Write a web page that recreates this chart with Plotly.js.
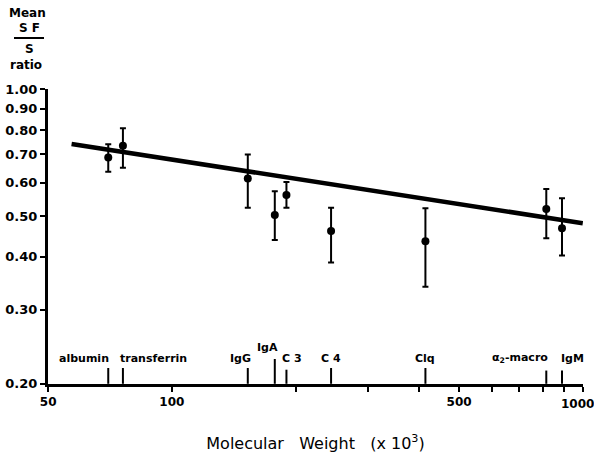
<!DOCTYPE html>
<html>
<head>
<meta charset="utf-8">
<script src="https://cdn.plot.ly/plotly-3.0.1.min.js"></script>
<style>html,body{margin:0;padding:0;background:#fff;}#chart{width:594px;height:461px;}</style>
</head>
<body>
<div id="chart"></div>
<script>
// Data (molecular weight x10^3, mean SF/S ratio, error bar ends)
const proteins = ["albumin", "transferrin", "IgG", "IgA", "C 3", "C 4", "Clq", "α2-macro", "IgM"];
const molWeight = [70, 76, 153, 178, 190, 244, 414, 815, 890];
const ratio = [0.689, 0.734, 0.614, 0.503, 0.561, 0.461, 0.436, 0.520, 0.468];
const errTop = [0.740, 0.808, 0.700, 0.573, 0.602, 0.523, 0.522, 0.580, 0.551];
const errBottom = [0.637, 0.651, 0.523, 0.439, 0.523, 0.388, 0.340, 0.443, 0.403];
const fitX = [57, 1000];
const fitY = [0.741, 0.481];
const xTickVals = [50, 100, 500, 1000];
const xTickText = ["50", "100", "500", "1000"];
const xMinorVals = [200, 300, 400, 600, 700, 800, 900];
const yTickVals = [0.2, 0.3, 0.4, 0.5, 0.6, 0.7, 0.8, 0.9, 1.0];
const yTickText = ["0.20", "0.30", "0.40", "0.50", "0.60", "0.70", "0.80", "0.90", "1.00"];

// Layout geometry
const W = 594, H = 461, L = 48, R = 11, T = 89, B = 77;
const pw = W - L - R, ph = H - T - B;
const pxX = p => (p - L) / pw;
const pxY = p => (H - B - p) / ph;

const FONT = "DejaVu Sans";

const errPlus = ratio.map((v, i) => errTop[i] - v);
const errMinus = ratio.map((v, i) => v - errBottom[i]);

// protein tick marks along bottom axis
const tickHeights = [0.218, 0.218, 0.218, 0.229, 0.216, 0.218, 0.218, 0.215, 0.215];
const mx = [], my = [];
molWeight.forEach((w, i) => { mx.push(w, w, null); my.push(0.2, tickHeights[i], null); });

const traces = [
  { x: fitX, y: fitY, mode: "lines", line: { color: "#000", width: 4.5 }, hoverinfo: "skip" },
  { x: mx, y: my, mode: "lines", line: { color: "#000", width: 2 }, cliponaxis: false, hoverinfo: "skip" },
  {
    x: molWeight, y: ratio, mode: "markers",
    marker: { color: "#000", size: 8 },
    error_y: { type: "data", symmetric: false, array: errPlus, arrayminus: errMinus, color: "#000", thickness: 2, width: 3 }
  }
];

const labelAnchor = ["right", "left", "center", "center", "left", "center", "center", "right", "left"];
const labelShift = [3, -5, -7, -7, -6, 0, 0, 4, -3];
const labelY = [358, 358, 358, 347, 358, 358, 358, 358, 358];

const tickFont = { family: FONT, size: 12, color: "#000", weight: "bold" };

const annotations = proteins.map((p, i) => ({
  x: Math.log10(molWeight[i]), xref: "x", y: pxY(labelY[i]), yref: "paper",
  text: p === "α2-macro" ? "α<sub>2</sub>-macro" : p, showarrow: false,
  xanchor: labelAnchor[i], yanchor: "middle", xshift: labelShift[i],
  font: { family: FONT, size: 11, color: "#000", weight: "bold" }
}));

// last x tick label, drawn inside the page edge as in the reference
annotations.push({
  x: Math.log10(xTickVals[3]), xref: "x", y: pxY(404), yref: "paper",
  text: xTickText[3], showarrow: false, xanchor: "center", yanchor: "middle", xshift: -5,
  font: tickFont
});

const titleFont = { family: FONT, size: 12, color: "#000", weight: "bold" };
annotations.push(
  { x: pxX(27), y: pxY(13), xref: "paper", yref: "paper", text: "Mean", showarrow: false, font: titleFont, xanchor: "center", yanchor: "middle" },
  { x: pxX(29), y: pxY(28), xref: "paper", yref: "paper", text: "S F", showarrow: false, font: titleFont, xanchor: "center", yanchor: "middle" },
  { x: pxX(29), y: pxY(49), xref: "paper", yref: "paper", text: "S", showarrow: false, font: titleFont, xanchor: "center", yanchor: "middle" },
  { x: pxX(26), y: pxY(65), xref: "paper", yref: "paper", text: "ratio", showarrow: false, font: titleFont, xanchor: "center", yanchor: "middle" }
);

const layout = {
  width: W, height: H,
  margin: { l: L, r: R, t: T, b: B, pad: 0 },
  paper_bgcolor: "#fff", plot_bgcolor: "#fff",
  showlegend: false,
  xaxis: {
    type: "log", range: [Math.log10(50) - 0.0005, Math.log10(1000) + 0.0005],
    tickmode: "array", tickvals: xTickVals, ticktext: xTickText.slice(0, 3).concat([" "]),
    ticks: "outside", ticklen: 5, tickwidth: 2, tickcolor: "#000",
    minor: { tickmode: "array", tickvals: xMinorVals, ticks: "outside", ticklen: 5, tickwidth: 2, tickcolor: "#000", showgrid: false },
    showline: true, linecolor: "#000", linewidth: 3,
    showgrid: false, zeroline: false,
    tickfont: tickFont,
    title: { text: "Molecular\u00a0\u00a0 Weight\u00a0\u00a0 (x 10<sup>3</sup>)", font: { family: FONT, size: 16, color: "#000" }, standoff: 30 }
  },
  yaxis: {
    type: "log", range: [Math.log10(0.2) - 0.0005, 0.0005],
    tickmode: "array", tickvals: yTickVals, ticktext: yTickText,
    ticks: "outside", ticklen: 5, tickwidth: 2, tickcolor: "#000",
    showline: true, linecolor: "#000", linewidth: 3,
    showgrid: false, zeroline: false,
    tickfont: { family: FONT, size: 13, color: "#000", weight: "bold" }
  },
  annotations: annotations,
  shapes: [
    { type: "line", xref: "paper", yref: "paper", x0: pxX(14), x1: pxX(44), y0: pxY(38), y1: pxY(38), line: { color: "#000", width: 2 } }
  ]
};

Plotly.newPlot("chart", traces, layout, { displayModeBar: false, staticPlot: true });
</script>
</body>
</html>
